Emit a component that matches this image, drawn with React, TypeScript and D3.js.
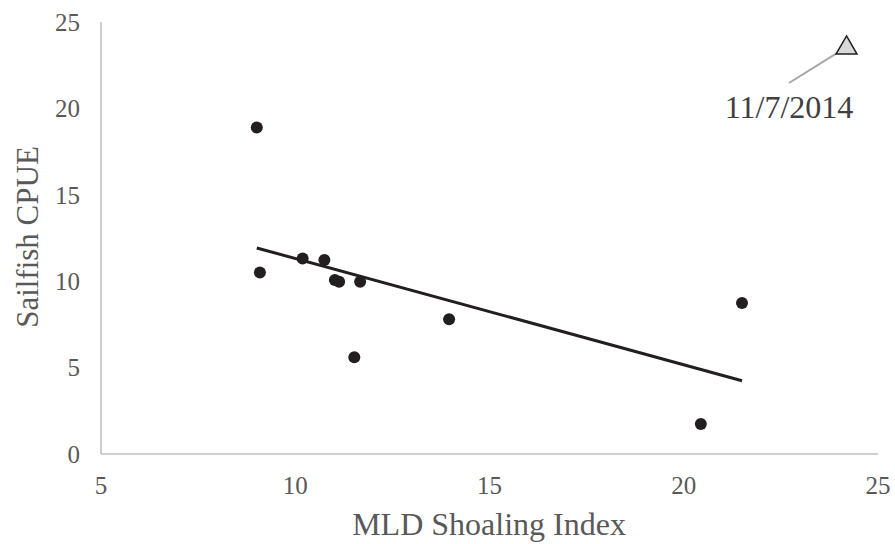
import * as d3 from "d3";

const mldIndex = [9.01, 9.09, 10.19, 10.75, 11.02, 11.13, 11.67, 11.52, 13.96, 20.44, 21.5];
const sailfishCpue = [18.9, 10.5, 11.32, 11.23, 10.07, 9.97, 9.97, 5.6, 7.8, 1.74, 8.74];
const outlier = { x: 24.19, y: 23.55, label: "11/7/2014" };
const xTicks = [5, 10, 15, 20, 25];
const yTicks = [0, 5, 10, 15, 20, 25];

const W = 895;
const H = 544;
const font = "'Liberation Serif', 'Times New Roman', serif";

export default function App() {
  const x = d3.scaleLinear().domain([5, 25]).range([101, 878]);
  const y = d3.scaleLinear().domain([0, 25]).range([454, 22]);

  // least squares trend over the filled points
  const mx = d3.mean(mldIndex) as number;
  const my = d3.mean(sailfishCpue) as number;
  let sxy = 0;
  let sxx = 0;
  mldIndex.forEach((v, i) => {
    sxy += (v - mx) * (sailfishCpue[i] - my);
    sxx += (v - mx) * (v - mx);
  });
  const slope = sxy / sxx;
  const x0 = d3.min(mldIndex) as number;
  const x1 = d3.max(mldIndex) as number;
  const trend = d3.line<number>()
    .x((d) => x(d))
    .y((d) => y(my + slope * (d - mx)))([x0, x1]);

  const tri = d3.symbol().type(d3.symbolTriangle).size(190)();
  const ox = x(outlier.x);
  const oy = y(outlier.y);

  return (
    <svg width={W} height={H} style={{ position: "absolute", left: 0, top: 0 }}>
      <rect width={W} height={H} fill="white" />
      <line x1={x(5)} x2={x(25)} y1={y(0)} y2={y(0)} stroke="#bfbfbf" strokeWidth={1.5} />
      <line x1={x(5)} x2={x(5)} y1={y(0)} y2={y(25)} stroke="#bfbfbf" strokeWidth={1.5} />
      {yTicks.map((t) => (
        <text key={t} x={80} y={y(t)} dy="0.35em" textAnchor="end" fontSize={25} fill="#595959" fontFamily={font}>
          {t}
        </text>
      ))}
      {xTicks.map((t) => (
        <text key={t} x={x(t)} y={485} dy="0.35em" textAnchor="middle" fontSize={25} fill="#595959" fontFamily={font}>
          {t}
        </text>
      ))}
      <text x={489} y={524} dy="0.35em" textAnchor="middle" fontSize={32} fill="#595959" fontFamily={font}>
        MLD Shoaling Index
      </text>
      <text transform={`translate(27,237) rotate(-90)`} dy="0.35em" textAnchor="middle" fontSize={31} fill="#595959" fontFamily={font}>
        Sailfish CPUE
      </text>
      <path d={trend ?? ""} stroke="#231f20" strokeWidth={3} fill="none" />
      {mldIndex.map((v, i) => (
        <circle key={i} cx={x(v)} cy={y(sailfishCpue[i])} r={6} fill="#231f20" />
      ))}
      <line x1={789} y1={83} x2={ox} y2={oy} stroke="#a6a6a6" strokeWidth={2} />
      <path d={tri ?? ""} transform={`translate(${ox},${oy + 1})`} fill="#d9d9d9" stroke="#231f20" strokeWidth={1.5} />
      <text x={789} y={107} dy="0.35em" textAnchor="middle" fontSize={32} fill="#404040" fontFamily={font}>
        {outlier.label}
      </text>
    </svg>
  );
}
